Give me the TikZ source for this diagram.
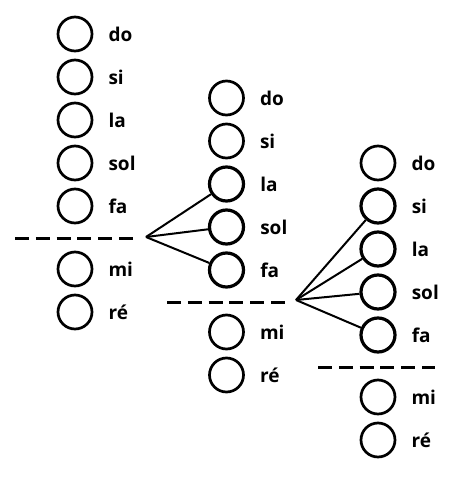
\documentclass[tikz,border=0pt]{standalone}
\usepackage{fontspec}
\setmainfont{Open Sans}
\tikzset{
  note/.style={circle, draw, line width=2.7pt, minimum size=34pt, inner sep=0pt},
  held/.style={note, line width=3.2pt},
  every label/.style={font=\fontsize{19}{19}\selectfont\bfseries, inner sep=0pt,
    xshift=15pt},
  split/.style={line width=3pt, dash pattern=on 14pt off 6.8pt},
  link/.style={line width=2pt},
}
\begin{document}
\begin{tikzpicture}[x=1pt, y=-1pt]
      \useasboundingbox (0,0) rectangle (456,483);
      % first scale
      \draw
        (75,34) node[note, label=right:do] (do1){}
        (75,77) node[note, label=right:si] (si1){}
        (75,120) node[note, label=right:la] (la1){}
        (75,163) node[note, label=right:sol] (sol1){}
        (75,206) node[note, label=right:fa] (fa1){}
        (75,269) node[note, label=right:mi] (mi1){}
        (75,312) node[note, label=right:ré] (re1){};
      \draw[split] (15,238) -- (133,238);
      \coordinate (hub1) at (146,237);
      % second scale
      \draw
        (226.5,98) node[note, label=right:do] (do2){}
        (226.5,141) node[note, label=right:si] (si2){}
        (226.5,184) node[held, label=right:la] (la2){}
        (226.5,227) node[held, label=right:sol] (sol2){}
        (226.5,270) node[held, label=right:fa] (fa2){}
        (226.5,332) node[note, label=right:mi] (mi2){}
        (226.5,375) node[note, label=right:ré] (re2){};
      \draw[split] (167,302) -- (287,302);
      \coordinate (hub2) at (296,300);
      % third scale
      \draw
        (378,163) node[note, label=right:do] (do3){}
        (378,206) node[held, label=right:si] (si3){}
        (378,249) node[held, label=right:la] (la3){}
        (378,292) node[held, label=right:sol] (sol3){}
        (378,335) node[held, label=right:fa] (fa3){}
        (378,397) node[note, label=right:mi] (mi3){}
        (378,440) node[note, label=right:ré] (re3){};
      \draw[split] (318,367) -- (435,367);
      \begin{scope}[link]
        \draw (hub1) to (la2);
        \draw (hub1) to (sol2);
        \draw (hub1) to (fa2);
        \draw (hub2) to (si3);
        \draw (hub2) to (la3);
        \draw (hub2) to (sol3);
        \draw (hub2) to (fa3);
      \end{scope}
    \end{tikzpicture}
\end{document}
